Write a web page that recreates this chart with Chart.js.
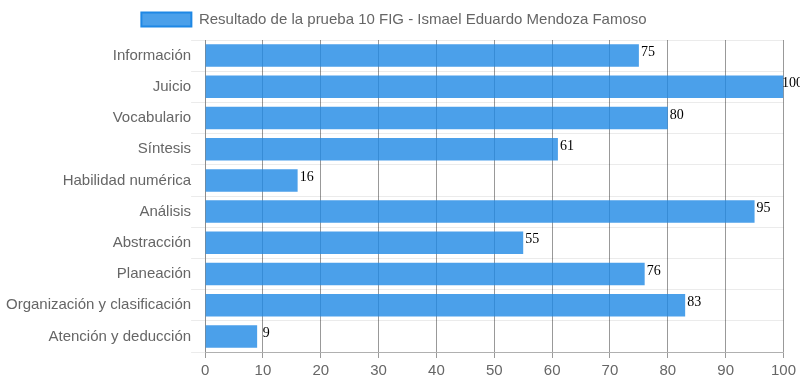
<!DOCTYPE html>
<html>
<head>
<meta charset="utf-8">
<script src="https://cdn.jsdelivr.net/npm/chart.js@4"></script>
<style>
  body { margin: 0; background: #fff; }
  #wrap { width: 800px; height: 386px; }
</style>
</head>
<body>
<div id="wrap"><canvas id="grafica"></canvas></div>
<script>
// Datos de la prueba
const areas = ["Información", "Juicio", "Vocabulario", "Síntesis", "Habilidad numérica",
  "Análisis", "Abstracción", "Planeación", "Organización y clasificación", "Atención y deducción"];
const puntajes = [75, 100, 80, 61, 16, 95, 55, 76, 83, 9];
const ticksX = [0, 10, 20, 30, 40, 50, 60, 70, 80, 90, 100];

Chart.defaults.font.family = "'Liberation Sans', Arial, sans-serif";
Chart.defaults.font.size = 15;
Chart.defaults.color = "#666";

// Etiquetas con el valor al final de cada barra
const etiquetas = {
  id: "etiquetas",
  afterInit(chart) {
    // leyenda un poco más alta y corrida a la izquierda
    const fitOriginal = chart.legend.fit;
    chart.legend.fit = function () {
      fitOriginal.call(this);
      this.height += 3;
    };
  },
  afterLayout(chart) {
    chart.legend.left -= 8;
    chart.legend.right -= 8;
  },
  afterDatasetsDraw(chart) {
    const ctx = chart.ctx;
    const meta = chart.getDatasetMeta(0);
    ctx.save();
    ctx.font = "14px 'Liberation Serif', 'Times New Roman', serif";
    ctx.fillStyle = "#000";
    ctx.textAlign = "center";
    ctx.textBaseline = "middle";
    meta.data.forEach((bar, i) => {
      ctx.fillText(puntajes[i], bar.x + 9, bar.y - 3);
    });
    ctx.restore();
  }
};

new Chart(document.getElementById("grafica"), {
  type: "bar",
  data: {
    labels: areas,
    datasets: [{
      label: "Resultado de la prueba 10 FIG - Ismael Eduardo Mendoza Famoso",
      data: puntajes,
      backgroundColor: "rgba(30,136,229,0.8)",
      borderColor: "rgba(30,136,229,0.8)",
      borderWidth: 0
    }]
  },
  options: {
    indexAxis: "y",
    responsive: true,
    maintainAspectRatio: false,
    animation: false,
    layout: { padding: { left: 6, right: 2, top: 2, bottom: 2 } },
    plugins: {
      legend: {
        labels: {
          boxWidth: 50,
          boxHeight: 14,
          padding: 10,
          generateLabels(chart) {
            const items = Chart.defaults.plugins.legend.labels.generateLabels(chart);
            items.forEach(it => { it.strokeStyle = "#1E88E5"; it.lineWidth = 2; });
            return items;
          }
        }
      },
      tooltip: { enabled: false }
    },
    scales: {
      x: {
        min: 0,
        max: 100,
        afterBuildTicks(axis) { axis.ticks = ticksX.map(v => ({ value: v })); },
        grid: { color: "rgba(0,0,0,0.4)", tickLength: 6 },
        border: { color: "rgba(0,0,0,0.25)" },
        ticks: { padding: 4 }
      },
      y: {
        grid: { color: "rgba(0,0,0,0.08)", tickLength: 14 },
        border: { color: "rgba(0,0,0,0.08)" },
        ticks: { padding: 0 }
      }
    }
  },
  plugins: [etiquetas]
});
</script>
</body>
</html>
